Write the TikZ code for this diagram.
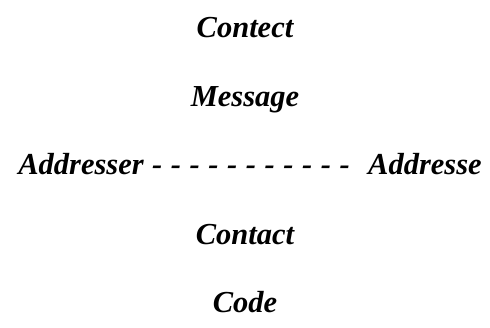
\documentclass[tikz,border=0pt]{standalone}
\usepackage{fontspec}
\setmainfont{Liberation Serif}
\begin{document}
\begin{tikzpicture}[x=1pt,y=1pt,font=\fontsize{30.5}{34}\selectfont\bfseries\itshape,
	word/.style={text height=21pt,text depth=7pt}]
	\useasboundingbox (0,0) rectangle (490,327);
	\node[word] (contect) at (245,296) {Contect};
	\node[word] (message) at (245,227) {Message};
	\node[word] (addr) at (81,159) {Addresser};
	\node[word] (dashes) at (251,159) {\spaceskip=8.6pt - - - - - - - - - - -};
	\node[word] (addre) at (425,159) {Addresse};
	\node[word] (contact) at (245,90) {Contact};
	\node[word] (code) at (245,22) {Code};
\end{tikzpicture}
\end{document}
